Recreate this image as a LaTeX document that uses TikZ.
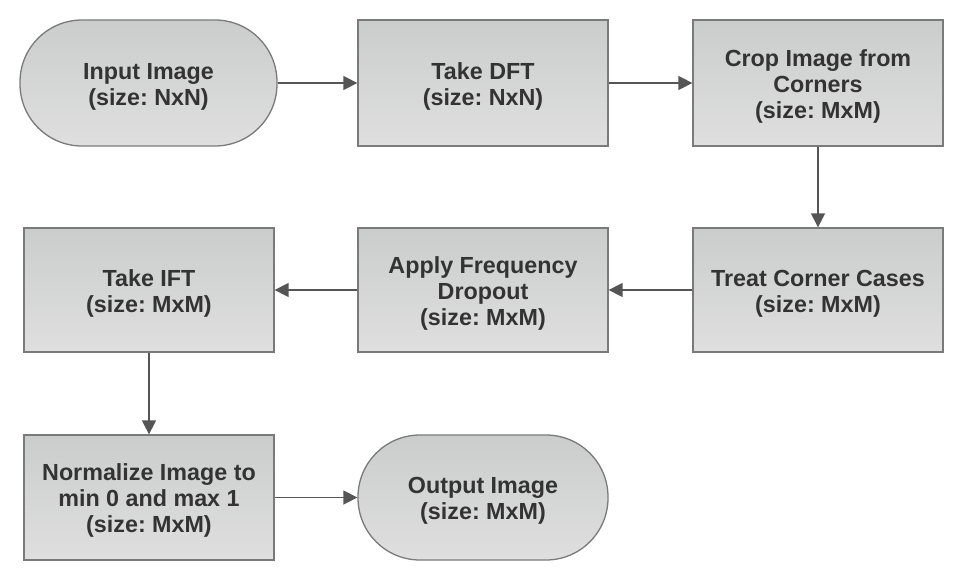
\documentclass[tikz,border=0pt]{standalone}
\usepackage{fontspec}
\setmainfont{Liberation Sans}
\usetikzlibrary{arrows.meta}
\definecolor{boxline}{HTML}{7A7A7A}
\definecolor{gtop}{HTML}{CBCCCC}
\definecolor{gbot}{HTML}{DFDFDF}
\definecolor{txt}{HTML}{333333}
\definecolor{arrcol}{HTML}{555555}
\frenchspacing
\newcommand{\boxlines}[1]{\raisebox{-4pt}[\height][\depth]{\begin{tabular}{@{}c@{}}#1\end{tabular}}}
\begin{document}
\begin{tikzpicture}[x=1pt,y=-1pt,
  box/.style={draw=boxline, line width=1.3pt, top color=gtop, bottom color=gbot,
    minimum width=250pt, minimum height=125pt, inner sep=0pt,
    font=\fontsize{23.3}{26}\selectfont\bfseries, text=txt},
  term/.style={box, rounded corners=62pt},
  arr/.style={draw=arrcol, line width=1.5pt, -{Triangle[length=14pt,width=14pt]}}]
\useasboundingbox (0,0) rectangle (976,586);
\node[term, minimum width=257pt, minimum height=126pt] (in) at (148.5,83) {\boxlines{Input Image\\(size: NxN)}};
\node[box, minimum height=126pt] (dft) at (483,83) {\boxlines{Take DFT\\(size: NxN)}};
\node[box, minimum height=126pt] (crop) at (818,83) {\boxlines{Crop Image from\\Corners\\(size: MxM)}};
\node[box, minimum height=124pt] (treat) at (818,290) {\boxlines{Treat Corner Cases\\(size: MxM)}};
\node[box, minimum height=124pt] (drop) at (483,290) {\boxlines{Apply Frequency\\Dropout\\(size: MxM)}};
\node[box, minimum height=124pt] (ift) at (149,290) {\boxlines{Take IFT\\(size: MxM)}};
\node[box] (norm) at (149,497.5) {\boxlines{Normalize Image to\\min 0 and max 1\\(size: MxM)}};
\node[term] (out) at (483,497.5) {\boxlines{Output Image\\(size: MxM)}};
\draw[arr] (in) -- (dft);
\draw[arr] (dft) -- (crop);
\draw[arr] (crop) -- (treat);
\draw[arr] (treat) -- (drop);
\draw[arr] (drop) -- (ift);
\draw[arr] (ift) -- (norm);
\draw[arr] (norm) -- (out);
\end{tikzpicture}
\end{document}
